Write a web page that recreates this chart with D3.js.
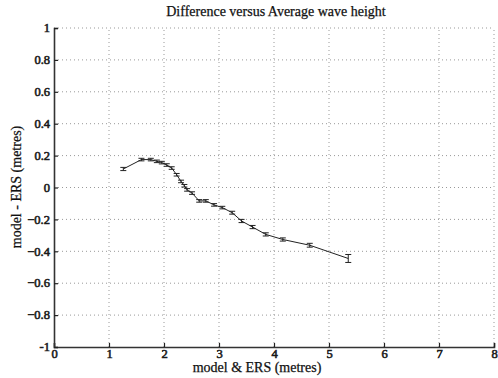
<!DOCTYPE html>
<html>
<head>
<meta charset="utf-8">
<script src="https://cdn.jsdelivr.net/npm/d3@7"></script>
<style>
  html, body { margin: 0; padding: 0; background: #fff; }
  svg { display: block; }
  text { font-family: "Liberation Serif", serif; fill: #111; }
</style>
</head>
<body>
<svg id="chart" width="498" height="378"></svg>
<script>
// Mean wave height (model & ERS) and mean difference (model - ERS), with error half-widths
const avgHeight = [1.26, 1.59, 1.76, 1.87, 1.96, 2.05, 2.14, 2.23, 2.31, 2.37, 2.42, 2.51,
                   2.64, 2.76, 2.91, 3.06, 3.24, 3.41, 3.61, 3.85, 4.16, 4.65, 5.35];
const difference = [0.116, 0.175, 0.175, 0.164, 0.156, 0.141, 0.122, 0.080, 0.038, 0.011, -0.015, -0.035,
                    -0.084, -0.084, -0.109, -0.126, -0.158, -0.210, -0.248, -0.294, -0.326, -0.362, -0.445];
const errHalf = [0.010, 0.008, 0.008, 0.008, 0.008, 0.008, 0.008, 0.008, 0.008, 0.008, 0.008, 0.008,
                 0.008, 0.008, 0.008, 0.008, 0.009, 0.010, 0.010, 0.010, 0.010, 0.012, 0.025];
const xTicks = [0, 1, 2, 3, 4, 5, 6, 7, 8];
const yTicks = [-1, -0.8, -0.6, -0.4, -0.2, 0, 0.2, 0.4, 0.6, 0.8, 1];

const svg = d3.select("#chart");
const margin = { left: 54, right: 4, top: 28, bottom: 31 };
const W = 498, H = 378;
const FONT = "Liberation Serif";

const x = d3.scaleLinear().domain([0, 8]).range([margin.left, W - margin.right]);
const y = d3.scaleLinear().domain([-1, 1]).range([H - margin.bottom, margin.top]);

// dotted grid
const grid = svg.append("g");
grid.selectAll("line.gx").data(xTicks.slice(1)).join("line")
  .attr("x1", d => x(d)).attr("x2", d => x(d))
  .attr("y1", y(-1)).attr("y2", y(1))
  .attr("stroke", "#999").attr("stroke-width", 1).attr("stroke-dasharray", "1,3");
grid.selectAll("line.gy").data(yTicks.slice(1)).join("line")
  .attr("x1", x(0)).attr("x2", x(8))
  .attr("y1", d => y(d)).attr("y2", d => y(d))
  .attr("stroke", "#999").attr("stroke-width", 1).attr("stroke-dasharray", "1,3");

// axes with inward ticks
const fmtY = d => d === 0 ? "0" : (Number.isInteger(d) ? String(d) : d3.format(".1f")(d));
const xAxis = d3.axisBottom(x).tickValues(xTicks).tickSize(-4).tickPadding(3).tickFormat(d3.format("d"));
const yAxis = d3.axisLeft(y).tickValues(yTicks).tickSize(-4).tickPadding(4).tickFormat(fmtY);

const gx = svg.append("g").attr("transform", `translate(0,${y(-1)})`).call(xAxis);
const gy = svg.append("g").attr("transform", `translate(${x(0)},0)`).call(yAxis);
[gx, gy].forEach(g => {
  g.attr("font-family", FONT);
  g.select(".domain").attr("stroke", "#333").attr("stroke-width", 1.6);
  g.selectAll(".tick line").attr("stroke", "#222").attr("stroke-width", 1.2);
  // heavier figures: fill plus a thin outline of the same colour
  g.selectAll(".tick text").attr("font-family", FONT)
    .attr("font-size", 12.5).attr("fill", "#222")
    .attr("stroke", "#222").attr("stroke-width", 0.6);
});
gy.selectAll(".tick text").attr("dy", "0.3em");
gx.selectAll(".tick text").attr("dy", "0.6em");

// data line
const line = d3.line().x((d, i) => x(avgHeight[i])).y(d => y(d));
svg.append("path").datum(difference)
  .attr("d", line).attr("fill", "none").attr("stroke", "#222").attr("stroke-width", 1);

// error bars
const eb = svg.append("g").attr("stroke", "#222").attr("stroke-width", 1);
avgHeight.forEach((h, i) => {
  const cx = x(h), lo = y(difference[i] - errHalf[i]), hi = y(difference[i] + errHalf[i]);
  eb.append("line").attr("x1", cx).attr("x2", cx).attr("y1", lo).attr("y2", hi);
  eb.append("line").attr("x1", cx - 3).attr("x2", cx + 3).attr("y1", lo).attr("y2", lo);
  eb.append("line").attr("x1", cx - 3).attr("x2", cx + 3).attr("y1", hi).attr("y2", hi);
});

// labels
const labelText = (sel) => sel.attr("font-family", FONT).attr("font-size", 14)
  .attr("fill", "#111").attr("stroke", "#111").attr("stroke-width", 0.25);
svg.append("text").attr("x", 276).attr("y", 16).attr("text-anchor", "middle")
  .call(labelText).text("Difference versus Average wave height");
svg.append("text").attr("x", 257).attr("y", 372).attr("text-anchor", "middle")
  .call(labelText).text("model & ERS (metres)");
svg.append("text").attr("transform", "translate(21,187) rotate(-90)").attr("text-anchor", "middle")
  .call(labelText).text("model - ERS (metres)");
</script>
</body>
</html>
